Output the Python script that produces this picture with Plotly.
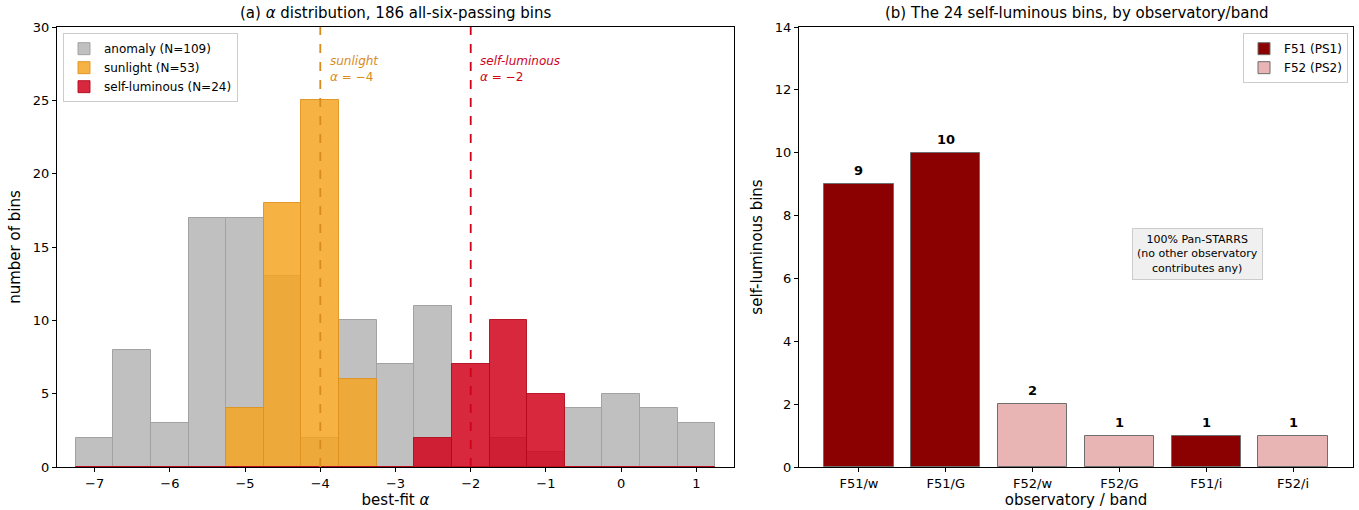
import plotly.graph_objects as go

# ---- data (panel a) ----
bin_centers = [-7.0, -6.5, -6.0, -5.5, -5.0, -4.5, -4.0, -3.5, -3.0, -2.5, -2.0, -1.5, -1.0, -0.5, 0.0, 0.5, 1.0]
anomaly_counts = [2, 8, 3, 17, 17, 13, 2, 10, 7, 11, 0, 2, 1, 4, 5, 4, 3]
sunlight_counts = [0, 0, 0, 0, 4, 18, 25, 6, 0, 0, 0, 0, 0, 0, 0, 0, 0]
selflum_counts = [0, 0, 0, 0, 0, 0, 0, 0, 0, 2, 7, 10, 5, 0, 0, 0, 0]
alpha_sunlight = -4
alpha_selflum = -2

# ---- data (panel b) ----
obs_bands = ["F51/w", "F51/G", "F52/w", "F52/G", "F51/i", "F52/i"]
obs_counts = [9, 10, 2, 1, 1, 1]
obs_station = ["F51", "F51", "F52", "F52", "F51", "F52"]

FONT = "DejaVu Sans"
W, H = 1359, 510
L_AX = (57 / W, 734 / W)
R_AX = (799 / W, 1353 / W)

fig = go.Figure()

fig.add_trace(go.Bar(x=bin_centers, y=anomaly_counts, width=0.5, name="anomaly (N=109)",
                     marker=dict(color="#c0c0c0", line=dict(color="#a2a2a2", width=1)),
                     xaxis="x", yaxis="y", legend="legend"))
fig.add_trace(go.Bar(x=bin_centers, y=sunlight_counts, width=0.5, name="sunlight (N=53)",
                     marker=dict(color="rgba(245,166,35,0.85)", line=dict(color="rgba(222,145,30,0.9)", width=1)),
                     xaxis="x", yaxis="y", legend="legend"))
fig.add_trace(go.Bar(x=bin_centers, y=selflum_counts, width=0.5, name="self-luminous (N=24)",
                     marker=dict(color="rgba(208,2,27,0.85)", line=dict(color="rgba(180,10,30,0.9)", width=1)),
                     xaxis="x", yaxis="y", legend="legend"))

# panel b bars, split by station for legend
colors = {"F51": "#8b0000", "F52": "#e8b4b4"}
names = {"F51": "F51 (PS1)", "F52": "F52 (PS2)"}
for st in ["F51", "F52"]:
    xs = [b for b, s in zip(obs_bands, obs_station) if s == st]
    ys = [c for c, s in zip(obs_counts, obs_station) if s == st]
    fig.add_trace(go.Bar(x=xs, y=ys, width=0.8, name=names[st],
                         marker=dict(color=colors[st], line=dict(color="#6e6e6e", width=1)),
                         xaxis="x2", yaxis="y2", legend="legend2"))

for b, c in zip(obs_bands, obs_counts):
    fig.add_annotation(x=b, y=c, xref="x2", yref="y2", yanchor="bottom", yshift=4,
                       text=f"<b>{c}</b>", showarrow=False,
                       font=dict(family=FONT, size=13, color="black"))

axis_common = dict(showline=True, linecolor="black", linewidth=1, mirror=True,
                   ticks="outside", ticklen=4, tickcolor="black", showgrid=False, zeroline=False,
                   tickfont=dict(family=FONT, size=13, color="black"))

fig.update_layout(
    width=W, height=H, barmode="overlay", bargap=0,
    plot_bgcolor="white", paper_bgcolor="white",
    margin=dict(l=0, r=0, t=27, b=43),
    font=dict(family=FONT, size=13, color="black"),
    xaxis=dict(domain=list(L_AX), range=[-7.5, 1.5], tickvals=[-7, -6, -5, -4, -3, -2, -1, 0, 1],
               title=dict(text="best-fit <i>α</i>", font=dict(family=FONT, size=15), standoff=2),
               anchor="y", **axis_common),
    yaxis=dict(domain=[0, 1], range=[0, 30], tickvals=[0, 5, 10, 15, 20, 25, 30],
               title=dict(text="number of bins", font=dict(family=FONT, size=15), standoff=8),
               anchor="x", **axis_common),
    xaxis2=dict(domain=list(R_AX), range=[-0.69, 5.69], categoryorder="array", categoryarray=obs_bands,
                title=dict(text="observatory / band", font=dict(family=FONT, size=15), standoff=4),
                anchor="y2", **axis_common),
    yaxis2=dict(domain=[0, 1], range=[0, 14], tickvals=[0, 2, 4, 6, 8, 10, 12, 14],
                title=dict(text="self-luminous bins", font=dict(family=FONT, size=15), standoff=8),
                anchor="x2", **axis_common),
    legend=dict(x=63 / W, y=0.986, xanchor="left", yanchor="top",
                bgcolor="rgba(255,255,255,0.85)", bordercolor="#cccccc", borderwidth=1,
                font=dict(family=FONT, size=12), tracegroupgap=0, itemwidth=30),
    legend2=dict(x=1348 / W, y=0.986, xanchor="right", yanchor="top",
                 bgcolor="rgba(255,255,255,0.85)", bordercolor="#cccccc", borderwidth=1,
                 font=dict(family=FONT, size=12), tracegroupgap=0, itemwidth=30),
    showlegend=True,
)

# reference lines
fig.add_vline(x=alpha_sunlight, line=dict(color="#d98b1e", width=1.8, dash="dash"), xref="x", yref="y")
fig.add_vline(x=alpha_selflum, line=dict(color="#d0021b", width=1.8, dash="dash"), xref="x", yref="y")

fig.add_annotation(x=alpha_sunlight + 0.1, y=28.3, xref="x", yref="y", xanchor="left", yanchor="top",
                   text="<i>sunlight</i><br><i>α</i> = −4", showarrow=False, align="left",
                   font=dict(family=FONT, size=12, color="#d98b1e"))
fig.add_annotation(x=alpha_selflum + 0.1, y=28.3, xref="x", yref="y", xanchor="left", yanchor="top",
                   text="<i>self-luminous</i><br><i>α</i> = −2", showarrow=False, align="left",
                   font=dict(family=FONT, size=12, color="#d0021b"))

# panel titles
fig.add_annotation(x=(L_AX[0] + L_AX[1]) / 2, y=1, xref="paper", yref="paper", xanchor="center",
                   yanchor="bottom", yshift=3,
                   text="(a) <i>α</i> distribution, 186 all-six-passing bins", showarrow=False,
                   font=dict(family=FONT, size=15))
fig.add_annotation(x=(R_AX[0] + R_AX[1]) / 2, y=1, xref="paper", yref="paper", xanchor="center",
                   yanchor="bottom", yshift=3,
                   text="(b) The 24 self-luminous bins, by observatory/band", showarrow=False,
                   font=dict(family=FONT, size=15))

# note box
fig.add_annotation(x=0.72, y=0.484, xref="x2 domain", yref="y2 domain", xanchor="center", yanchor="middle",
                   text="100% Pan-STARRS<br>(no other observatory<br>contributes any)", showarrow=False,
                   font=dict(family=FONT, size=11), bgcolor="#f0f0f0", bordercolor="#cccccc", borderwidth=1,
                   borderpad=4)

fig.write_html("out.html")
